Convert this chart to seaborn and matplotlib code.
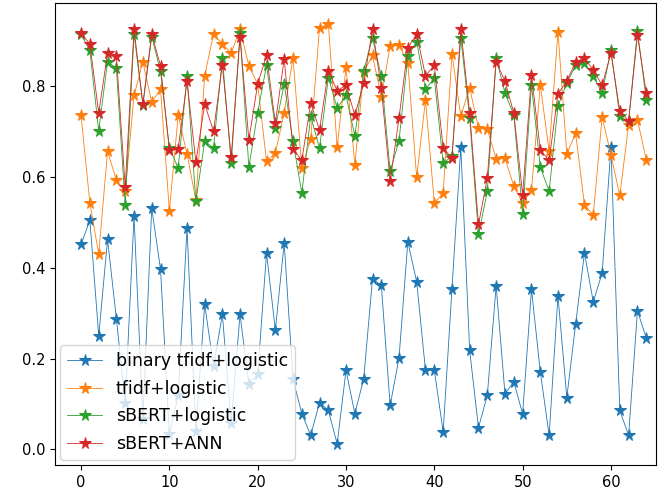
import matplotlib
matplotlib.use("Agg")
import matplotlib.pyplot as plt
import seaborn as sns
import pandas as pd
import numpy as np

FIG_SIZE = (6.64, 4.97)
DPI = 100

labels = ["binary tfidf+logistic", "tfidf+logistic", "sBERT+logistic", "sBERT+ANN"]

binary_tfidf = [
    0.451, 0.504, 0.250, 0.462, 0.288, 0.103, 0.514, 0.066, 0.531, 0.396,
    0.033, 0.120, 0.487, 0.040, 0.319, 0.183, 0.297, 0.059, 0.297, 0.143,
    0.165, 0.432, 0.263, 0.454, 0.154, 0.079, 0.031, 0.103, 0.086, 0.012,
    0.174, 0.079, 0.155, 0.375, 0.361, 0.097, 0.201, 0.457, 0.369, 0.174,
    0.174, 0.039, 0.354, 0.665, 0.218, 0.048, 0.119, 0.360, 0.122, 0.149,
    0.078, 0.352, 0.171, 0.031, 0.338, 0.114, 0.276, 0.432, 0.325, 0.388,
    0.665, 0.086, 0.031, 0.305, 0.245,
]
tfidf = [
    0.735, 0.542, 0.430, 0.656, 0.592, 0.568, 0.779, 0.853, 0.764, 0.793,
    0.525, 0.735, 0.650, 0.549, 0.822, 0.914, 0.892, 0.872, 0.925, 0.844,
    0.804, 0.634, 0.652, 0.741, 0.862, 0.619, 0.683, 0.927, 0.936, 0.665,
    0.841, 0.626, 0.830, 0.867, 0.776, 0.888, 0.890, 0.850, 0.599, 0.769,
    0.542, 0.564, 0.870, 0.733, 0.796, 0.707, 0.705, 0.639, 0.641, 0.579,
    0.542, 0.570, 0.802, 0.656, 0.919, 0.650, 0.696, 0.538, 0.516, 0.731,
    0.648, 0.559, 0.714, 0.725, 0.637,
]
sbert_logistic = [
    0.913, 0.878, 0.701, 0.853, 0.839, 0.537, 0.914, 0.758, 0.908, 0.832,
    0.663, 0.619, 0.822, 0.546, 0.678, 0.663, 0.862, 0.630, 0.916, 0.621,
    0.741, 0.845, 0.707, 0.804, 0.678, 0.564, 0.733, 0.663, 0.818, 0.751,
    0.779, 0.690, 0.832, 0.906, 0.821, 0.612, 0.679, 0.865, 0.897, 0.793,
    0.817, 0.630, 0.645, 0.906, 0.729, 0.473, 0.568, 0.862, 0.784, 0.736,
    0.518, 0.802, 0.621, 0.568, 0.755, 0.806, 0.845, 0.850, 0.821, 0.784,
    0.879, 0.733, 0.722, 0.921, 0.769,
]
sbert_ann = [
    0.916, 0.892, 0.740, 0.872, 0.865, 0.577, 0.925, 0.760, 0.914, 0.844,
    0.659, 0.661, 0.810, 0.632, 0.760, 0.700, 0.846, 0.643, 0.908, 0.681,
    0.804, 0.867, 0.718, 0.859, 0.661, 0.636, 0.762, 0.703, 0.833, 0.789,
    0.802, 0.735, 0.806, 0.925, 0.795, 0.590, 0.729, 0.883, 0.914, 0.822,
    0.845, 0.663, 0.641, 0.925, 0.741, 0.495, 0.597, 0.853, 0.810, 0.740,
    0.560, 0.823, 0.659, 0.636, 0.782, 0.810, 0.853, 0.861, 0.835, 0.801,
    0.872, 0.745, 0.723, 0.912, 0.784,
]

series = [binary_tfidf, tfidf, sbert_logistic, sbert_ann]
frames = []
for name, vals in zip(labels, series):
    frames.append(pd.DataFrame({"run": np.arange(len(vals)), "score": vals, "model": name}))
df = pd.concat(frames, ignore_index=True)

fig = plt.figure(figsize=FIG_SIZE, dpi=DPI)
ax = fig.add_axes([55 / 664, 32 / 497, 601 / 664, 462 / 497])

colors = ["#1f77b4", "#ff7f0e", "#2ca02c", "#d62728"]
for name, c in zip(labels, colors):
    sub = df[df["model"] == name]
    sns.lineplot(
        data=sub, x="run", y="score", ax=ax, label=name,
        color=c, marker="*", markersize=8.5, markeredgecolor=c,
        linewidth=0.6, estimator=None, sort=False,
    )

ax.set_xlabel("")
ax.set_ylabel("")
ax.set_xlim(-2.95, 65.1)
ax.set_xticks([0, 10, 20, 30, 40, 50, 60])
ax.set_yticks([0.0, 0.2, 0.4, 0.6, 0.8])
ax.tick_params(labelsize=10.5)
ax.legend(loc="lower left", fontsize=12.5, handlelength=2.0,
          borderaxespad=0.3, labelspacing=0.55)

plt.savefig("out.png", dpi=DPI)
plt.close()
